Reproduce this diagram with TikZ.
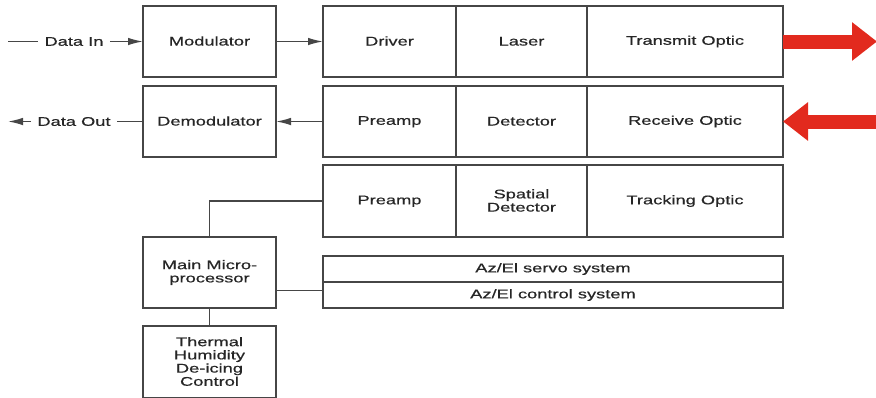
\documentclass[tikz,border=0pt]{standalone}
\usepackage{fontspec}
\setmainfont{Liberation Sans}[FakeStretch=1.45, FakeBold=0.6]
\usetikzlibrary{positioning, arrows.meta}

\definecolor{beamred}{RGB}{226,42,30}
\definecolor{boxline}{RGB}{70,70,70}

\begin{document}
\begin{tikzpicture}[
  x=0.5pt, y=-0.5pt,
  font=\fontsize{6.3}{6.6}\selectfont,
  text=black!85,
  block/.style={
    draw=boxline,
    line width=0.75pt,
    minimum width=66.5pt,
    minimum height=35.5pt,
    inner sep=0pt,
    outer sep=0pt,
    align=center,
    execute at begin node={\rule[-0.6pt]{0pt}{5.2pt}}
  },
  bar/.style={
    block,
    minimum width=230pt,
    minimum height=13pt
  },
  label/.style={inner sep=3pt},
  wire/.style={draw=boxline, line width=0.75pt},
  >={Latex[length=7.5pt,width=3.8pt]},
  beam/.style={beamred, line width=7pt,
    -{Triangle[length=12.5pt,width=18.5pt]}}
]
\clip (0,0) rectangle (876,397);

% modem column
\node[block] (Modulator) at (209.5,41.5) {Modulator};
\node[block, below=4.5pt of Modulator] (Demodulator) {Demodulator};

% transmit chain
\node[block, right=23.5pt of Modulator] (Driver) {Driver};
\node[block, minimum width=65.5pt, right=0pt of Driver] (Laser) {Laser};
\node[block, minimum width=98pt, right=0pt of Laser] (TransmitOptic) {Transmit Optic};

% receive chain
\node[block, below=4.5pt of Driver] (RxPreamp) {Preamp};
\node[block, minimum width=65.5pt, right=0pt of RxPreamp] (Detector) {Detector};
\node[block, minimum width=98pt, right=0pt of Detector] (ReceiveOptic) {Receive Optic};

% tracking chain
\node[block, minimum height=36pt, below=4pt of RxPreamp] (TrkPreamp) {Preamp};
\node[block, minimum height=36pt, minimum width=65.5pt, right=0pt of TrkPreamp] (SpatialDetector) {Spatial\\Detector};
\node[block, minimum height=36pt, minimum width=98pt, right=0pt of SpatialDetector] (TrackingOptic) {Tracking Optic};

% gimbal
\node[bar, below right=9.5pt and 0pt of TrkPreamp.south west] (Servo) {Az/El servo system};
\node[bar, below=0pt of Servo] (Control) {Az/El control system};

% control electronics
\node[block] (Micro) at (209.5,272.5) {Main Micro-\\processor};
\node[block, minimum height=36pt, below=9pt of Micro] (Thermal) {Thermal\\Humidity\\De-icing\\Control};

% data labels
\node[label] (DataIn) at (74,41.5) {Data In};
\node[label] (DataOut) at (74,121.5) {Data Out};
\coordinate (InEnd) at (8,41.5);
\coordinate (OutEnd) at (8,121.5);

% signal paths
\draw[wire] (InEnd) -- (DataIn.west);
\draw[wire, ->] (DataIn.east) -- (Modulator.west);
\draw[wire, ->] (Modulator.east) -- (Driver.west);
\draw[wire, ->] (RxPreamp.west) -- (Demodulator.east);
\draw[wire] (Demodulator.west) -- (DataOut.east);
\draw[wire, ->] (DataOut.west) -- (OutEnd);

% processor links
\draw[wire] (Micro.north) |- (TrkPreamp.west);
\draw[wire] ([yshift=-9pt]Micro.east) -- ([yshift=-9pt]Micro.east -| Control.west);
\draw[wire] (Micro.south) -- (Thermal.north);

% optical beams
\coordinate (TxEnd) at (877,41.5);
\coordinate (RxStart) at (877,121.5);
\draw[beam] (TransmitOptic.east) -- (TxEnd);
\draw[beam] (RxStart) -- (ReceiveOptic.east);

\end{tikzpicture}
\end{document}
